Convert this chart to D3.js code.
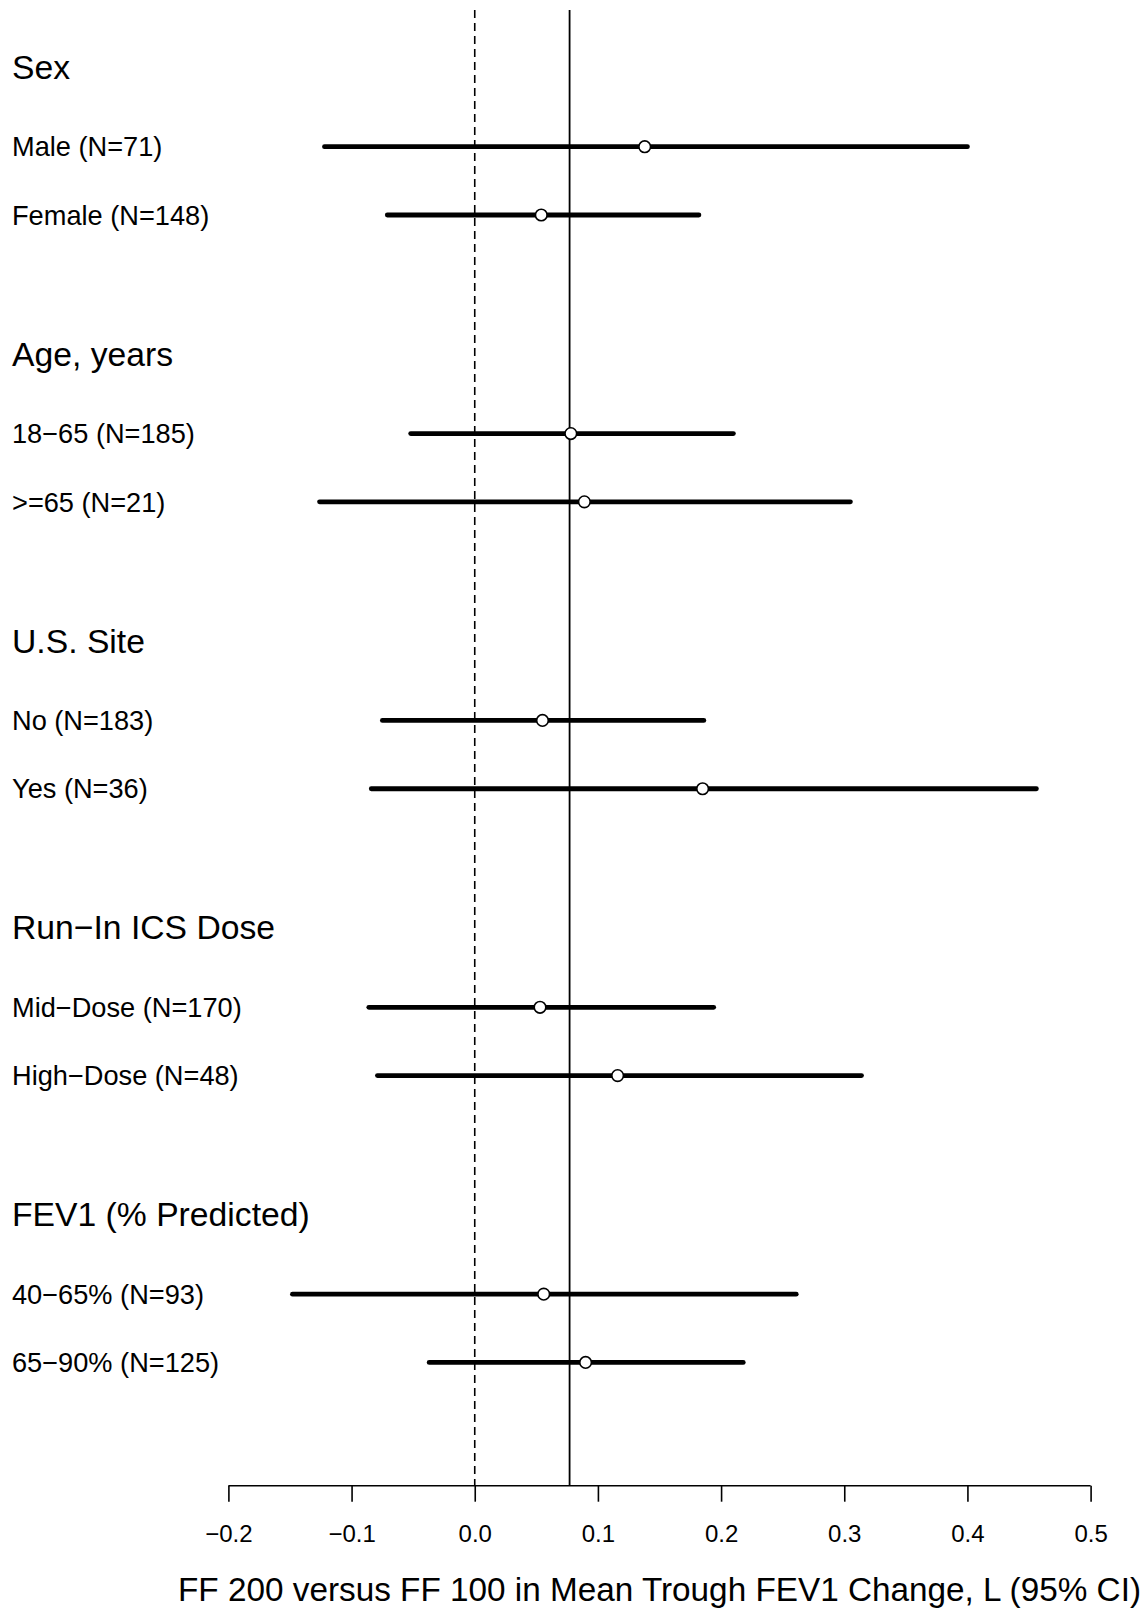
<!DOCTYPE html>
<html>
<head>
<meta charset="utf-8">
<script src="https://cdn.jsdelivr.net/npm/d3@7"></script>
<style>
  html, body { margin: 0; padding: 0; background: #fff; }
  svg { display: block; font-family: "Liberation Sans", Arial, Helvetica, sans-serif; }
</style>
</head>
<body>
<svg id="chart" width="1146" height="1608"></svg>
<script>
// Subgroup forest plot: FF 200 vs FF 100, mean trough FEV1 change (L) with 95% CI
const groupTitles = ["Sex", "Age, years", "U.S. Site", "Run\u2212In ICS Dose", "FEV1 (% Predicted)"];
const subgroupLabels = [
  "Male (N=71)", "Female (N=148)",
  "18\u221265 (N=185)", ">=65 (N=21)",
  "No (N=183)", "Yes (N=36)",
  "Mid\u2212Dose (N=170)", "High\u2212Dose (N=48)",
  "40\u221265% (N=93)", "65\u221290% (N=125)"
];
const subgroupGroup = [0, 0, 1, 1, 2, 2, 3, 3, 4, 4];
const estimates = [0.138, 0.054, 0.078, 0.089, 0.055, 0.185, 0.053, 0.116, 0.056, 0.090];
const lowerCI   = [-0.122, -0.071, -0.052, -0.126, -0.075, -0.084, -0.086, -0.079, -0.148, -0.037];
const upperCI   = [0.400, 0.182, 0.210, 0.305, 0.186, 0.456, 0.194, 0.314, 0.261, 0.218];
const overallEstimate = 0.077;
const nullValue = 0;
const xTicks = [-0.2, -0.1, 0.0, 0.1, 0.2, 0.3, 0.4, 0.5];
const xTitle = "FF 200 versus FF 100 in Mean Trough FEV1 Change, L (95% CI)";

const svg = d3.select("#chart");

// Layout: each group occupies 4.2 row slots; header on slot 0, rows below it
const GROUP_SLOTS = 4.2, FIRST_ROW = 1.17;
const x = d3.scaleLinear().domain([-0.2, 0.5]).range([228.4, 1090.6]);
const y = d3.scaleLinear().domain([0, 20]).range([66.8, 1432.8]);
const plotTop = 10, axisY = 1485.7;

const rowSlot = (i) => {
  const g = subgroupGroup[i];
  const k = subgroupGroup.slice(0, i).filter(v => v === g).length;
  return g * GROUP_SLOTS + FIRST_ROW + k;
};

// Reference lines: no-effect (dashed) and overall estimate (solid)
svg.append("line")
  .attr("x1", x(nullValue)).attr("x2", x(nullValue))
  .attr("y1", plotTop).attr("y2", axisY)
  .attr("stroke", "#000").attr("stroke-width", 1.6)
  .attr("stroke-dasharray", "8,5");
svg.append("line")
  .attr("x1", x(overallEstimate)).attr("x2", x(overallEstimate))
  .attr("y1", plotTop).attr("y2", axisY)
  .attr("stroke", "#000").attr("stroke-width", 1.8);

// Group headers
svg.append("g").selectAll("text")
  .data(groupTitles)
  .join("text")
  .attr("x", 12)
  .attr("y", (d, g) => y(g * GROUP_SLOTS) + 12.1)
  .attr("font-size", 33.7)
  .attr("fill", "#000")
  .text(d => d);

// Subgroup labels
svg.append("g").selectAll("text")
  .data(subgroupLabels)
  .join("text")
  .attr("x", 12)
  .attr("y", (d, i) => y(rowSlot(i)) + 9.7)
  .attr("font-size", 27.2)
  .attr("fill", "#000")
  .text(d => d);

// Confidence intervals
svg.append("g").selectAll("line")
  .data(estimates)
  .join("line")
  .attr("x1", (d, i) => x(lowerCI[i]))
  .attr("x2", (d, i) => x(upperCI[i]))
  .attr("y1", (d, i) => y(rowSlot(i)))
  .attr("y2", (d, i) => y(rowSlot(i)))
  .attr("stroke", "#000")
  .attr("stroke-width", 4.8)
  .attr("stroke-linecap", "round");

// Point estimates
svg.append("g").selectAll("circle")
  .data(estimates)
  .join("circle")
  .attr("cx", d => x(d))
  .attr("cy", (d, i) => y(rowSlot(i)))
  .attr("r", 5.8)
  .attr("fill", "#fff")
  .attr("stroke", "#000")
  .attr("stroke-width", 1.6);

// Bottom axis
const axis = d3.axisBottom(x)
  .tickValues(xTicks)
  .tickSizeInner(16)
  .tickSizeOuter(0)
  .tickPadding(24)
  .tickFormat(d => d3.format(".1f")(d).replace("-", "\u2212"));
const ax = svg.append("g")
  .attr("transform", `translate(0,${axisY})`)
  .call(axis);
ax.select(".domain").attr("stroke", "#000").attr("stroke-width", 1.6)
  .attr("d", `M${x(-0.2)},0H${x(0.5)}`);
ax.selectAll(".tick line").attr("stroke", "#000").attr("stroke-width", 1.6);
ax.selectAll(".tick text")
  .attr("font-size", 24)
  .attr("font-family", "\"Liberation Sans\", Arial, Helvetica, sans-serif")
  .attr("fill", "#000")
  .attr("dy", null)
  .attr("y", 1541.6 - axisY);

// Axis title
svg.append("text")
  .attr("x", (x(-0.2) + x(0.5)) / 2)
  .attr("y", 1600.8)
  .attr("text-anchor", "middle")
  .attr("font-size", 33.3)
  .attr("fill", "#000")
  .text(xTitle);
</script>
</body>
</html>
